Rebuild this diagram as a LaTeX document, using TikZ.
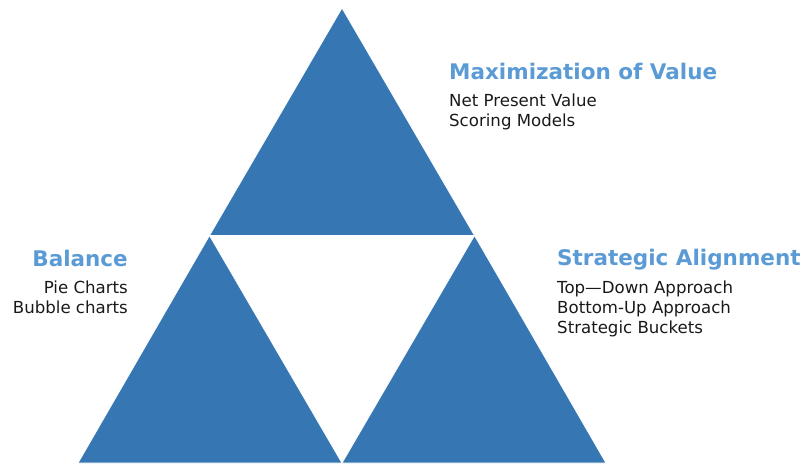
\documentclass[tikz,border=0pt]{standalone}
\usepackage{fontspec}
\setmainfont{DejaVu Sans}
\definecolor{triblue}{RGB}{54,119,179}
\definecolor{headblue}{RGB}{91,155,213}
\definecolor{bodytext}{RGB}{25,25,25}
\begin{document}
\begin{tikzpicture}[x=1pt,y=-1pt,
  tripiece/.style={fill=triblue, draw=white, line width=0.8pt, line join=miter},
  heading/.style={font=\fontsize{21.5}{24}\selectfont\bfseries, text=headblue, inner sep=0pt},
  entry/.style={font=\fontsize{16.6}{19}\selectfont, text=bodytext, inner sep=0pt}]
\useasboundingbox (0,0) rectangle (802,463);

% the three triangles of the pyramid
\filldraw[tripiece] (342,8) -- (474.5,235.5) -- (209.5,235.5) -- cycle;
\filldraw[tripiece] (209.5,235.5) -- (342,463) -- (78,463) -- cycle;
\filldraw[tripiece] (474.5,235.5) -- (606,463) -- (342,463) -- cycle;

% top: maximization of value
\node[heading, anchor=base west] (maxt) at (449,79) {Maximization of Value};
\node[entry, anchor=base west] (npv) at (449,106) {Net Present Value};
\node[entry, anchor=base west] (score) at (449,126) {Scoring Models};

% left: balance
\node[heading, anchor=base east] (balt) at (128,266) {Balance};
\node[entry, anchor=base east] (pie) at (128,293) {Pie Charts};
\node[entry, anchor=base east] (bubble) at (128,313) {Bubble charts};

% right: strategic alignment
\node[heading, anchor=base west] (strat) at (557,265) {Strategic Alignment};
\node[entry, anchor=base west] (topdown) at (557,293) {Top—Down Approach};
\node[entry, anchor=base west] (bottomup) at (557,313) {Bottom-Up Approach};
\node[entry, anchor=base west] (buckets) at (557,333) {Strategic Buckets};
\end{tikzpicture}
\end{document}
